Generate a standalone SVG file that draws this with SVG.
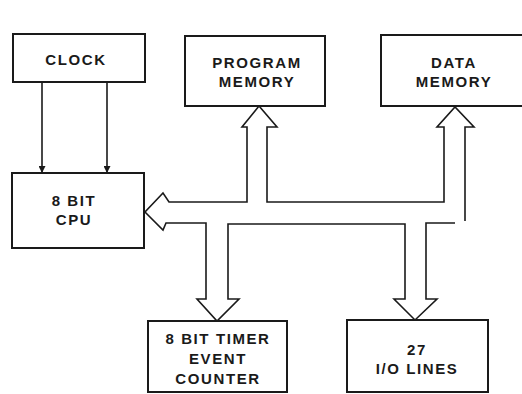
<svg xmlns="http://www.w3.org/2000/svg" width="522" height="394" viewBox="0 0 522 394">
<style>
.box{fill:#fff;stroke:#1a1a1a;stroke-width:2}
.lbl{font-family:"Liberation Sans",Arial,sans-serif;font-weight:bold;font-size:15px;letter-spacing:1.6px;fill:#1a1a1a;text-anchor:middle}
.bus{fill:none;stroke:#1a1a1a;stroke-width:1.6;stroke-linejoin:miter}
.wire{fill:none;stroke:#1a1a1a;stroke-width:1.6}
</style>
<defs>
<marker id="ah" viewBox="0 0 10 10" refX="10" refY="5" markerWidth="10" markerHeight="7" markerUnits="userSpaceOnUse" orient="auto">
<path d="M0,0 L10,5 L0,10 Z" fill="#1a1a1a"/>
</marker>
</defs>
<rect width="522" height="394" fill="#fff"/>
<g id="connectors">
<line class="wire" x1="42" y1="82" x2="42" y2="173" marker-end="url(#ah)"/>
<line class="wire" x1="107" y1="82" x2="107" y2="173" marker-end="url(#ah)"/>
<path class="bus" d="M455,223 L426,223 L426,299 L437,299 L415,320 L394,299 L405,299 L405,224 L228,224 L228,299 L239,299 L217,321 L197,299 L206,299 L206,223 L166,223 L163,230 L145,212 L163,193 L169,202 L247,202 L247,127 L242,127 L259,106 L277,127 L267,127 L267,202 L444,202 L444,127 L437,127 L455,107 L474,127 L465,127 L465,221"/>
</g>
<g id="clock">
<rect class="box" x="13" y="34" width="132" height="48"/>
<text class="lbl" x="76" y="65">CLOCK</text>
</g>
<g id="program-memory">
<rect class="box" x="185" y="36" width="140" height="70"/>
<text class="lbl" x="257" y="68">PROGRAM</text>
<text class="lbl" x="257" y="87">MEMORY</text>
</g>
<g id="data-memory">
<rect class="box" x="381" y="35" width="150" height="71"/>
<text class="lbl" x="454" y="68">DATA</text>
<text class="lbl" x="454" y="87">MEMORY</text>
</g>
<g id="cpu">
<rect class="box" x="12" y="173" width="132" height="75"/>
<text class="lbl" x="74" y="206">8 BIT</text>
<text class="lbl" x="74" y="225">CPU</text>
</g>
<g id="timer">
<rect class="box" x="148" y="321" width="139" height="71"/>
<text class="lbl" x="218" y="344">8 BIT TIMER</text>
<text class="lbl" x="218" y="364">EVENT</text>
<text class="lbl" x="218" y="384">COUNTER</text>
</g>
<g id="io-lines">
<rect class="box" x="347" y="320" width="141" height="72"/>
<text class="lbl" x="417" y="355">27</text>
<text class="lbl" x="417" y="374">I/O LINES</text>
</g>
</svg>
